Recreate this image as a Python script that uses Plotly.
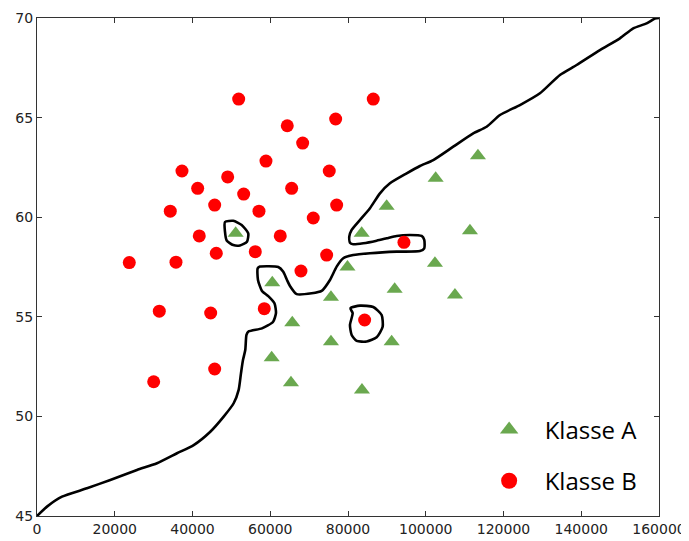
import plotly.graph_objects as go

# Klasse A (triangles)
a_x = [51106, 60519, 65663, 60365, 65329, 75617, 75617, 79861, 83513, 89943,
       102546, 113425, 111368, 102366, 92000, 107510, 91229, 83590]
a_y = [59.19, 56.71, 54.70, 52.95, 51.69, 55.98, 53.75, 57.50, 59.19, 60.55,
       61.95, 63.09, 59.32, 57.69, 56.38, 56.10, 53.75, 51.33]

# Klasse B (circles)
b_x = [51877, 86496, 76826, 64377, 68338, 58899, 37294, 75180, 49048, 41332,
       65509, 53163, 45704, 77083, 34285, 57098, 71064, 41744, 62577, 94392,
       46116, 56147, 74511, 23740, 35751, 67901, 58462, 31456, 44676, 84284,
       45704, 30015]
b_y = [65.93, 65.93, 64.93, 64.59, 63.72, 62.82, 62.32, 62.32, 62.02, 61.45,
       61.45, 61.16, 60.61, 60.61, 60.30, 60.30, 59.96, 59.06, 59.06, 58.74,
       58.19, 58.27, 58.10, 57.72, 57.74, 57.30, 55.41, 55.28, 55.19, 54.84,
       52.38, 51.74]

# Decision boundary (main curve)
main_x = [0, 2572, 6430, 12860, 18853, 25720, 30864, 36008, 40303, 44573,
          48019, 50591, 51877, 52469, 52983, 53575, 53884, 54398, 57870, 60699,
          61471, 61085, 59490, 57870, 56841, 56764, 57356, 62062, 63348, 64300,
          65072, 66795, 70653, 73225, 75360, 77083, 78780, 81352, 85648, 92515,
          98508, 99614, 99614, 98945, 95936, 92515, 89943, 87371, 83924, 81352,
          80504, 80324, 80941, 83076, 85648, 88220, 90792, 95087, 98508, 101929,
          107073, 112217, 115663, 119084, 124228, 129372, 134516, 138811, 144804, 149948,
          153368, 156815, 158950, 160000]
main_y = [45.0, 45.47, 45.97, 46.39, 46.81, 47.31, 47.65, 48.15, 48.56, 49.23,
          49.99, 50.66, 51.33, 52.16, 52.83, 53.33, 54.09, 54.26, 54.42, 54.74,
          55.18, 55.68, 56.04, 56.30, 56.85, 57.43, 57.52, 57.50, 57.26, 56.85,
          56.55, 56.14, 56.18, 56.30, 56.85, 57.52, 57.94, 58.10, 58.19, 58.27,
          58.30, 58.44, 58.86, 59.06, 59.11, 59.06, 58.94, 58.82, 58.69, 58.64,
          58.72, 59.02, 59.36, 59.86, 60.45, 61.20, 61.70, 62.20, 62.57, 62.87,
          63.54, 64.21, 64.54, 65.13, 65.63, 66.22, 67.14, 67.64, 68.39, 68.98,
          69.48, 69.73, 69.97, 70.0]

# Boundary island around a Klasse A point
loop1_x = [48354, 50488, 52649, 54346, 54012, 52212, 50488, 48791, 48354, 48354]
loop1_y = [59.76, 59.82, 59.61, 59.19, 58.77, 58.58, 58.60, 58.83, 59.27, 59.76]

# Boundary island around a Klasse B point
loop2_x = [80632, 83076, 86496, 88657, 88914, 87371, 84799, 82227, 80941, 80504, 81198, 80632]
loop2_y = [55.43, 55.56, 55.49, 55.09, 54.50, 53.97, 53.76, 53.79, 54.09, 54.59, 55.18, 55.43]

x_ticks = [0, 20000, 40000, 60000, 80000, 100000, 120000, 140000, 160000]
y_ticks = [45, 50, 55, 60, 65, 70]

GREEN = "#6aa84f"
RED = "#ff0000"

fig = go.Figure()
for bx, by in [(main_x, main_y), (loop1_x, loop1_y), (loop2_x, loop2_y)]:
    fig.add_trace(go.Scatter(x=bx, y=by, mode="lines",
                             line=dict(color="black", width=2.6, shape="spline", smoothing=0.6),
                             showlegend=False, hoverinfo="skip"))

fig.add_trace(go.Scatter(x=a_x, y=a_y, mode="markers", name="Klasse A", showlegend=False,
                         marker=dict(symbol="triangle-up", size=14, color=GREEN, line=dict(width=0))))
fig.add_trace(go.Scatter(x=b_x, y=b_y, mode="markers", name="Klasse B", showlegend=False,
                         marker=dict(symbol="circle", size=13, color=RED, line=dict(width=0))))

# legend-only entries (larger symbols, as in the reference legend)
fig.add_trace(go.Scatter(x=[None], y=[None], mode="markers", name="Klasse A", legendgroup="a",
                         marker=dict(symbol="triangle-up", size=17, color=GREEN, line=dict(width=0))))
fig.add_trace(go.Scatter(x=[None], y=[None], mode="markers", name="Klasse B", legendgroup="b",
                         marker=dict(symbol="circle", size=16, color=RED, line=dict(width=0))))

axis_common = dict(showline=True, linecolor="#333", linewidth=1, mirror="ticks",
                   ticks="inside", ticklen=5, tickcolor="#333", showgrid=False, zeroline=False,
                   automargin=False,
                   tickfont=dict(family="DejaVu Sans", size=14, color="#222"))

fig.update_xaxes(range=[0, 160000], tickvals=x_ticks, ticktext=[str(t) for t in x_ticks], **axis_common)
fig.update_yaxes(range=[45, 70], tickvals=y_ticks, ticktext=[str(t) for t in y_ticks], **axis_common)

# the page adds an ~8px body offset, so margins are compensated
fig.update_layout(
    width=689, height=541,
    margin=dict(l=29, r=38, t=10, b=33),
    plot_bgcolor="white", paper_bgcolor="white",
    legend=dict(x=0.702, y=0.218, xanchor="left", yanchor="top",
                font=dict(family="Open Sans", size=24, color="black"),
                bgcolor="rgba(0,0,0,0)", tracegroupgap=17, itemwidth=61,
                itemsizing="trace"),
)

fig.write_html("out.html")
